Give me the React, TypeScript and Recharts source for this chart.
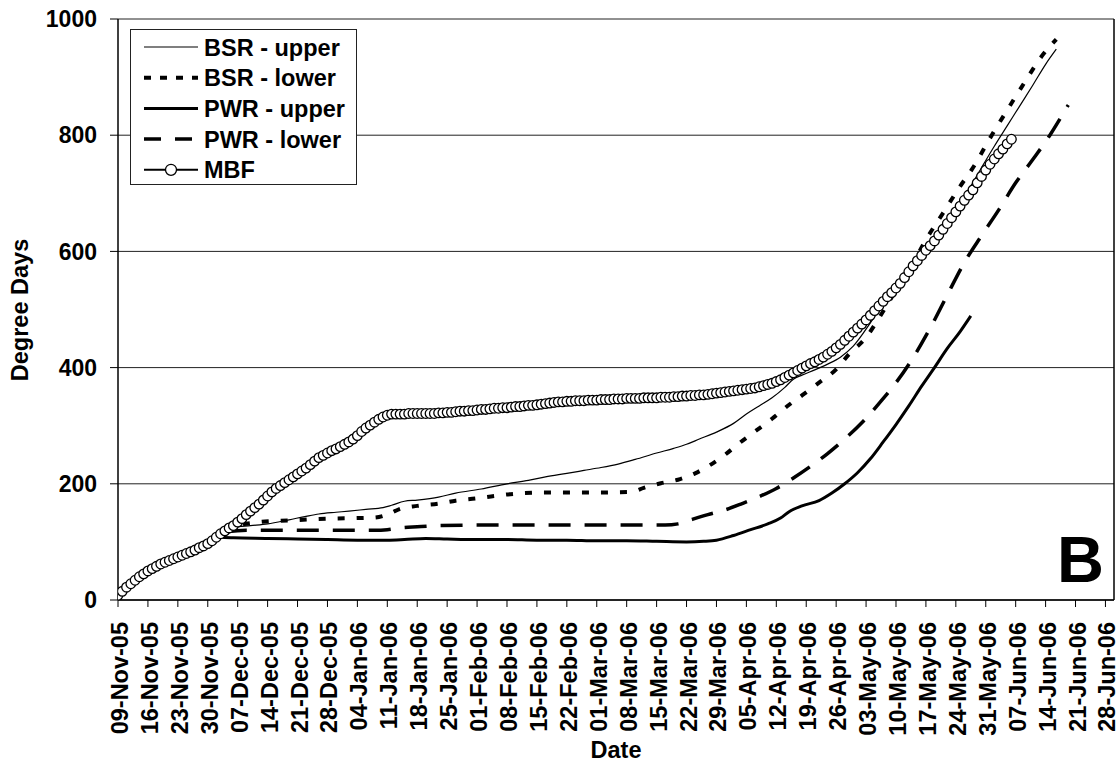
import {
  LineChart,
  Line,
  XAxis,
  YAxis,
  CartesianGrid,
  Legend,
  ReferenceLine,
  Customized,
} from "recharts";

const FONT = "'Liberation Sans', Arial, sans-serif";

// x values are days since 09-Nov-05
const weekTicks = [
  0, 7, 14, 21, 28, 35, 42, 49, 56, 63, 70, 77, 84, 91, 98, 105, 112, 119, 126,
  133, 140, 147, 154, 161, 168, 175, 182, 189, 196, 203, 210, 217, 224, 231,
];
const weekLabels = [
  "09-Nov-05", "16-Nov-05", "23-Nov-05", "30-Nov-05", "07-Dec-05", "14-Dec-05",
  "21-Dec-05", "28-Dec-05", "04-Jan-06", "11-Jan-06", "18-Jan-06", "25-Jan-06",
  "01-Feb-06", "08-Feb-06", "15-Feb-06", "22-Feb-06", "01-Mar-06", "08-Mar-06",
  "15-Mar-06", "22-Mar-06", "29-Mar-06", "05-Apr-06", "12-Apr-06", "19-Apr-06",
  "26-Apr-06", "03-May-06", "10-May-06", "17-May-06", "24-May-06", "31-May-06",
  "07-Jun-06", "14-Jun-06", "21-Jun-06", "28-Jun-06",
];
const yTicks = [0, 200, 400, 600, 800, 1000];

// MBF observed, one value per day starting 09-Nov-05
const mbfValues = [
  8, 15, 22, 28, 34, 40, 45, 50, 54, 58, 62, 65, 68, 71, 74, 77, 80, 83, 86, 90,
  93, 97, 102, 108, 114, 119, 124, 128, 134, 140, 147, 153, 159, 165, 172, 179, 186, 192, 197, 202,
  207, 212, 217, 222, 227, 233, 239, 245, 249, 253, 257, 260, 264, 268, 272, 277, 283, 290, 296, 301,
  306, 311, 315, 318, 320, 320, 320, 320, 321, 321, 321, 321, 321, 321, 321, 322, 322, 323, 323, 324,
  325, 325, 326, 326, 327, 328, 328, 329, 330, 330, 331, 331, 332, 333, 333, 334, 335, 335, 336, 337,
  338, 339, 340, 341, 341, 342, 342, 343, 343, 343, 344, 344, 344, 345, 345, 345, 346, 346, 346, 347,
  347, 347, 347, 348, 348, 348, 348, 349, 349, 349, 350, 350, 351, 351, 352, 352, 353, 353, 354, 355,
  356, 357, 358, 359, 360, 361, 362, 363, 364, 365, 367, 369, 371, 373, 376, 379, 383, 387, 391, 395,
  399, 403, 407, 410, 414, 418, 423, 428, 434, 440, 447, 454, 461, 468, 475, 482, 490, 498, 506, 514,
  522, 529, 537, 545, 555, 565, 575, 584, 593, 602, 610, 618, 628, 638, 648, 658, 668, 678, 688, 697,
  706, 718, 729, 740, 750, 759, 768, 776, 785, 793,
];

const bsrUpperDays = [
  25, 27, 31, 35, 40, 44, 47, 51, 54, 58, 62, 64, 67, 70, 75, 79, 85, 91, 96, 100,
  105, 109, 113, 117, 121, 126, 130, 133, 136, 140, 144, 147, 150, 153, 156, 158, 160, 163, 166, 169,
  172, 176, 180, 184, 188, 192, 196, 199, 202, 205, 208, 211, 214, 217, 219.5,
];
const bsrUpperValues = [
  120, 125, 128, 131, 138, 144, 148, 151, 153, 156, 159, 163, 170, 172, 177, 184, 191, 200, 206, 212,
  218, 223, 228, 234, 242, 253, 261, 268, 277, 289, 304, 320, 334, 348, 366, 380, 387, 396, 406, 418,
  437, 477, 522, 560, 597, 635, 672, 706, 744, 781, 816, 851, 886, 922, 948,
];

const bsrLowerDays = [
  25, 28, 33, 40, 50, 60, 63, 66, 70, 75, 79, 84, 88, 93, 100, 110, 120, 123, 127, 131,
  135, 138, 142, 145, 149, 153, 157, 160, 164, 168, 171, 175, 178, 181, 185, 189, 193, 197, 200, 204,
  208, 212, 216, 219.5,
];
const bsrLowerValues = [
  120, 128, 134, 137, 140, 142, 147, 157, 162, 166, 171, 175, 179, 183, 185, 185, 186, 193, 201, 207,
  218, 230, 250, 268, 290, 312, 336, 352, 374, 397, 423, 452, 485, 521, 567, 620, 666, 712, 744, 795,
  843, 890, 935, 965,
];

const pwrUpperDays = [
  24, 27, 35, 42, 49, 56, 63, 67, 72, 77, 84, 91, 98, 105, 112, 119, 126, 133, 137, 140,
  144, 148, 152, 155, 157, 160, 164, 167, 170, 173, 176, 179, 182, 185, 188, 191, 194, 197, 199.5,
];
const pwrUpperValues = [
  108, 107, 106, 105, 104, 103, 103, 104, 106, 105, 104, 104, 103, 103, 102, 102, 101, 100, 101, 103,
  111, 121, 131, 141, 152, 162, 171, 184, 200, 219, 243, 272, 302, 334, 368, 400, 433, 462, 489,
];

const pwrLowerDays = [
  25, 30, 40, 50, 60, 63, 66, 70, 75, 85, 100, 110, 120, 128, 131, 134, 138, 142, 146, 150,
  154, 158, 162, 166, 170, 174, 178, 182, 186, 190, 194, 198, 202, 206, 210, 214, 218, 222.3,
];
const pwrLowerValues = [
  117, 120, 120, 120, 120, 121, 124, 126, 128, 129, 129, 129, 129, 129, 131, 138, 147, 155, 166, 178,
  192, 210, 230, 252, 277, 305, 338, 374, 417, 468, 525, 581, 627, 671, 718, 758, 800, 852,
];

const toPoints = (days: number[], values: number[]) =>
  days.map((day, i) => ({ day, v: values[i] }));

const mbf = mbfValues.map((v, i) => ({ day: i, v }));
const bsrUpper = toPoints(bsrUpperDays, bsrUpperValues);
const bsrLower = toPoints(bsrLowerDays, bsrLowerValues);
const pwrUpper = toPoints(pwrUpperDays, pwrUpperValues);
const pwrLower = toPoints(pwrLowerDays, pwrLowerValues);

const legendItems = [
  { name: "BSR - upper", width: 1.2, dash: undefined as string | undefined, marker: false },
  { name: "BSR - lower", width: 4, dash: "7 9", marker: false },
  { name: "PWR - upper", width: 3, dash: undefined, marker: false },
  { name: "PWR - lower", width: 3.5, dash: "17 14", marker: false },
  { name: "MBF", width: 2, dash: undefined, marker: true },
];

const DateTick = ({ x, y, payload }: any) => (
  <text
    transform={`translate(${x + 10},${y + 15}) rotate(-90)`}
    textAnchor="end"
    fontSize={23.5}
    fontWeight="bold"
    fontFamily={FONT}
    fill="#000"
  >
    {weekLabels[Math.round(payload.value / 7)]}
  </text>
);

const LegendBox = () => (
  <div style={{ border: "1px solid #222", background: "#fff", width: 225, height: 154 }}>
    <svg width={225} height={154}>
      {legendItems.map((item, i) => {
        const cy = 17 + i * 30.7;
        return (
          <g key={item.name}>
            <line
              x1={13}
              x2={67}
              y1={cy}
              y2={cy}
              stroke="#000"
              strokeWidth={item.width}
              strokeDasharray={item.dash}
            />
            {item.marker && <circle cx={40} cy={cy} r={5.5} fill="#fff" stroke="#000" strokeWidth={1.3} />}
            <text x={73} y={cy + 8.5} fontSize={23.5} fontWeight="bold" fontFamily={FONT} fill="#000">
              {item.name}
            </text>
          </g>
        );
      })}
    </svg>
  </div>
);

const Titles = () => (
  <g fontFamily={FONT} fontWeight="bold" fill="#000">
    <text transform="translate(28,310) rotate(-90)" textAnchor="middle" fontSize={23.5}>
      Degree Days
    </text>
    <text x={616} y={758} textAnchor="middle" fontSize={23.5}>
      Date
    </text>
    <text x={1057} y={582} fontSize={65}>
      B
    </text>
  </g>
);

export default function App() {
  return (
    <div style={{ width: 1120, height: 764, background: "#fff", fontFamily: FONT }}>
      <style>{"body{margin:0;background:#fff}"}</style>
      <LineChart width={1120} height={764} margin={{ top: 19, right: 6, bottom: 14, left: 0 }}>
        <CartesianGrid vertical={false} stroke="#222" strokeWidth={1} />
        <XAxis
          type="number"
          dataKey="day"
          domain={[0, 233]}
          ticks={weekTicks}
          interval={0}
          height={150}
          tickSize={7}
          tickMargin={0}
          tick={<DateTick />}
          axisLine={{ stroke: "#000", strokeWidth: 1.5 }}
          tickLine={{ stroke: "#000" }}
          allowDataOverflow
        />
        <YAxis
          type="number"
          domain={[0, 1000]}
          ticks={yTicks}
          interval={0}
          width={118}
          tickSize={8}
          tickMargin={13}
          tick={{ fontSize: 23, fontWeight: 700, fill: "#000", fontFamily: FONT }}
          axisLine={{ stroke: "#000", strokeWidth: 1.5 }}
          tickLine={{ stroke: "#000" }}
          allowDataOverflow
        />
        <ReferenceLine x={233} stroke="#000" strokeWidth={1.5} />
        <Legend
          layout="horizontal"
          verticalAlign="middle"
          align="center"
          content={<LegendBox />}
          wrapperStyle={{ left: 130, top: 29, width: 227, height: 156 }}
        />
        <Line
          data={bsrUpper}
          dataKey="v"
          name="BSR - upper"
          type="monotone"
          stroke="#000"
          strokeWidth={1.2}
          dot={false}
          isAnimationActive={false}
        />
        <Line
          data={bsrLower}
          dataKey="v"
          name="BSR - lower"
          type="monotone"
          stroke="#000"
          strokeWidth={4}
          strokeDasharray="7 12"
          dot={false}
          isAnimationActive={false}
        />
        <Line
          data={pwrUpper}
          dataKey="v"
          name="PWR - upper"
          type="monotone"
          stroke="#000"
          strokeWidth={3}
          dot={false}
          isAnimationActive={false}
        />
        <Line
          data={pwrLower}
          dataKey="v"
          name="PWR - lower"
          type="monotone"
          stroke="#000"
          strokeWidth={3.5}
          strokeDasharray="22 14"
          dot={false}
          isAnimationActive={false}
        />
        <Line
          data={mbf}
          dataKey="v"
          name="MBF"
          type="monotone"
          stroke="#000"
          strokeWidth={2}
          dot={{ r: 4.8, fill: "#fff", stroke: "#000", strokeWidth: 1.3 }}
          isAnimationActive={false}
        />
        <Customized component={<Titles />} />
      </LineChart>
    </div>
  );
}
